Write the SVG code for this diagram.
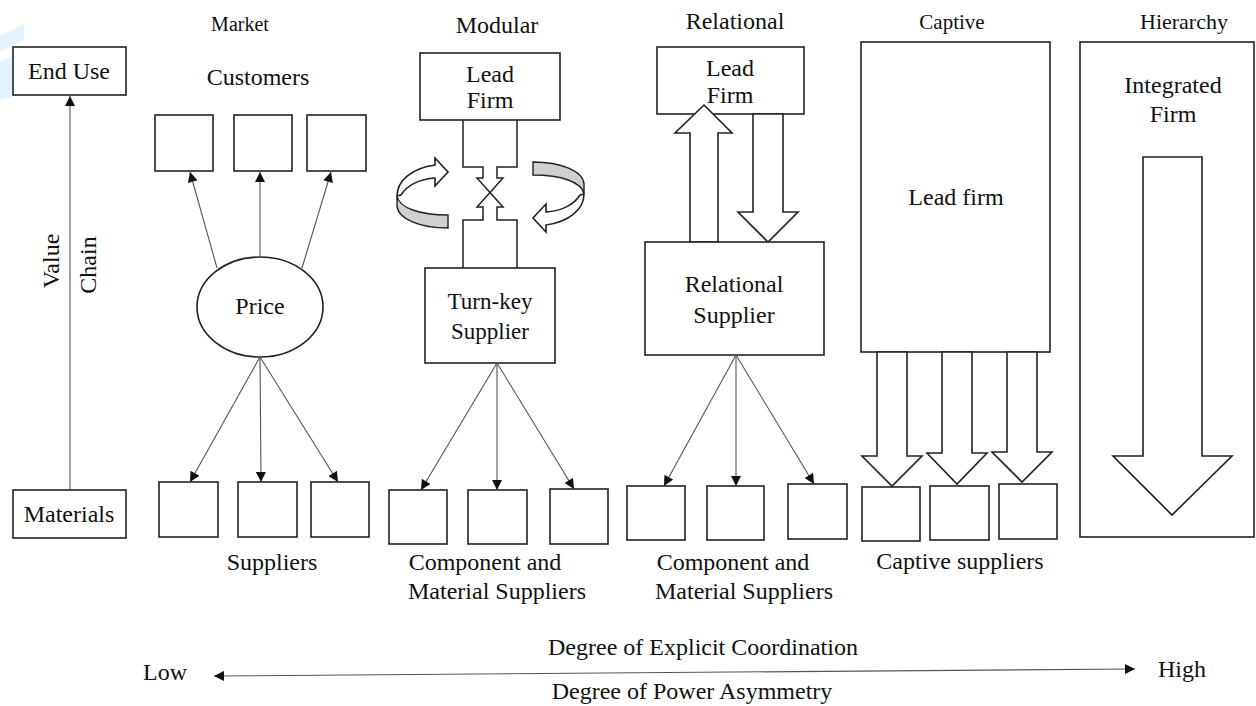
<svg xmlns="http://www.w3.org/2000/svg" width="1256" height="706" viewBox="0 0 1256 706">
  <defs>
    <style>
      text { font-family: "Liberation Serif", "Times New Roman", serif; fill: #111; text-anchor: middle; }
      .tx { font-size: 24px; }
      .box { fill: #fff; stroke: #222; stroke-width: 1.6; }
      .blk { fill: #fff; stroke: #222; stroke-width: 1.6; stroke-linejoin: miter; }
      .link { fill: none; stroke: #222; stroke-width: 1.5; }
      .thin { fill: none; stroke: #555; stroke-width: 1.1; }
      .gray { fill: #d0d0d0; stroke: #222; stroke-width: 1.4; }
    </style>
    <marker id="ah" viewBox="0 0 10 10" refX="10" refY="5" markerWidth="11" markerHeight="10" markerUnits="userSpaceOnUse" orient="auto">
      <path d="M0,0 L10,5 L0,10 z" fill="#111"/>
    </marker>
    <marker id="ahs" viewBox="0 0 10 10" refX="0" refY="5" markerWidth="11" markerHeight="10" markerUnits="userSpaceOnUse" orient="auto">
      <path d="M10,0 L0,5 L10,10 z" fill="#111"/>
    </marker>
    <!-- curved rotation arrow used twice around the modular link -->
    <g id="curl">
      <path class="gray" d="M397,196 C399,208 420,215 448,215 L448,228 C420,228 398,219 397,206 Z"/>
      <path class="blk" d="M397,196 C397,180 413,168 435,165 L435,158 L448,172 L435,186 L435,178 C420,179 407,185 401,195 Z"/>
    </g>
  </defs>

  <rect width="1256" height="706" fill="#fff"/>
  <!-- faint blue mark at the left edge -->
  <path d="M0,36 L24,24 L24,40 L0,52 Z M0,62 L22,50 L22,94 L0,100 Z" fill="#dcefff" opacity="0.8"/>

  <!-- column headings -->
  <g id="headings">
    <text x="240" y="31" font-size="20">Market</text>
    <text x="497" y="33" font-size="24">Modular</text>
    <text x="735" y="29" font-size="24">Relational</text>
    <text x="952" y="29" font-size="21">Captive</text>
    <text x="1184" y="29" font-size="22">Hierarchy</text>
  </g>

  <!-- value chain axis -->
  <g id="end-use"><rect class="box" x="13" y="47" width="113" height="48"/><text class="tx" x="69" y="79">End Use</text></g>
  <g id="materials"><rect class="box" x="13" y="490" width="113" height="48"/><text class="tx" x="69" y="522">Materials</text></g>
  <g id="value-chain-label">
    <text class="tx" transform="translate(59,261) rotate(-90)">Value</text>
    <text class="tx" transform="translate(96,265) rotate(-90)">Chain</text>
  </g>

  <!-- market -->
  <g id="market">
    <text class="tx" x="258" y="85">Customers</text>
    <rect class="box" x="155" y="115" width="58" height="56"/>
    <rect class="box" x="234" y="115" width="58" height="56"/>
    <rect class="box" x="307" y="115" width="59" height="56"/>
    <ellipse class="box" cx="260" cy="307" rx="63" ry="50"/>
    <text class="tx" x="260" y="314">Price</text>
    <rect class="box" x="159" y="482" width="59" height="55"/>
    <rect class="box" x="238" y="482" width="59" height="55"/>
    <rect class="box" x="311" y="482" width="58" height="55"/>
    <text class="tx" x="272" y="570">Suppliers</text>
  </g>

  <!-- modular -->
  <g id="modular">
    <rect class="box" x="420" y="53" width="140" height="67"/>
    <text class="tx" x="490" y="82">Lead</text>
    <text class="tx" x="490" y="108">Firm</text>
    <path class="link" d="M463,120 V167 H483 V178 H477 L503,207 H497 V220 H517 V268"/>
    <path class="link" d="M517,120 V167 H497 V178 H503 L477,207 H483 V220 H463 V268"/>
    <use href="#curl"/>
    <use href="#curl" transform="rotate(180 490.5 195)"/>
    <rect class="box" x="425" y="268" width="130" height="95"/>
    <text x="490" y="309" font-size="23">Turn-key</text>
    <text x="490" y="339" font-size="23">Supplier</text>
    <rect class="box" x="389" y="490" width="58" height="54"/>
    <rect class="box" x="468" y="490" width="59" height="54"/>
    <rect class="box" x="550" y="489" width="58" height="55"/>
    <text class="tx" x="485" y="570">Component and</text>
    <text class="tx" x="497" y="599">Material Suppliers</text>
  </g>

  <!-- relational -->
  <g id="relational">
    <rect class="box" x="657" y="47" width="147" height="67"/>
    <text class="tx" x="730" y="76">Lead</text>
    <text class="tx" x="730" y="103">Firm</text>
    <polygon class="blk" points="690,242 690,133 675,133 704,105 732,133 718,133 718,242"/>
    <polygon class="blk" points="753,114 753,212 738,212 768,242 798,212 783,212 783,114"/>
    <rect class="box" x="645" y="242" width="179" height="113"/>
    <text class="tx" x="734" y="292">Relational</text>
    <text class="tx" x="734" y="323">Supplier</text>
    <rect class="box" x="627" y="486" width="58" height="54"/>
    <rect class="box" x="707" y="486" width="57" height="54"/>
    <rect class="box" x="788" y="484" width="59" height="55"/>
    <text class="tx" x="733" y="570">Component and</text>
    <text class="tx" x="744" y="599">Material Suppliers</text>
  </g>

  <!-- captive -->
  <g id="captive">
    <rect class="box" x="861" y="42" width="189" height="310"/>
    <text class="tx" x="956" y="205">Lead firm</text>
    <polygon class="blk" points="877,352 877,456 862,456 892,486 922,456 907,456 907,352"/>
    <polygon class="blk" points="942,352 942,453 927,453 957,484 987,453 972,453 972,352"/>
    <polygon class="blk" points="1007,352 1007,452 992,452 1022,482 1052,452 1037,452 1037,352"/>
    <rect class="box" x="862" y="487" width="58" height="54"/>
    <rect class="box" x="930" y="486" width="59" height="54"/>
    <rect class="box" x="999" y="484" width="58" height="55"/>
    <text class="tx" x="960" y="569">Captive suppliers</text>
  </g>

  <!-- hierarchy -->
  <g id="hierarchy">
    <rect class="box" x="1080" y="42" width="174" height="495"/>
    <text class="tx" x="1173" y="93">Integrated</text>
    <text class="tx" x="1173" y="122">Firm</text>
    <polygon class="blk" points="1143,157 1143,456 1113,456 1172,515 1232,456 1202,456 1202,157"/>
  </g>

  <!-- connectors -->
  <g id="connectors" class="thin" marker-end="url(#ah)">
    <line x1="70" y1="490" x2="70" y2="96"/>
    <line x1="217" y1="268" x2="190" y2="172"/>
    <line x1="260" y1="257" x2="260" y2="172"/>
    <line x1="302" y1="268" x2="331" y2="172"/>
    <line x1="260" y1="357" x2="190" y2="482"/>
    <line x1="260" y1="357" x2="261" y2="482"/>
    <line x1="260" y1="357" x2="338" y2="482"/>
    <line x1="497" y1="363" x2="421" y2="490"/>
    <line x1="497" y1="363" x2="497" y2="490"/>
    <line x1="497" y1="363" x2="574" y2="489"/>
    <line x1="736" y1="355" x2="664" y2="486"/>
    <line x1="736" y1="355" x2="736" y2="486"/>
    <line x1="736" y1="355" x2="814" y2="484"/>
  </g>

  <!-- coordination / power scale -->
  <g id="scale">
    <text class="tx" x="703" y="655">Degree of Explicit Coordination</text>
    <text class="tx" x="165" y="680">Low</text>
    <text class="tx" x="1182" y="677">High</text>
    <text class="tx" x="692" y="699">Degree of Power Asymmetry</text>
    <line class="thin" x1="214" y1="676" x2="1135" y2="669" marker-start="url(#ahs)" marker-end="url(#ah)"/>
  </g>
</svg>
